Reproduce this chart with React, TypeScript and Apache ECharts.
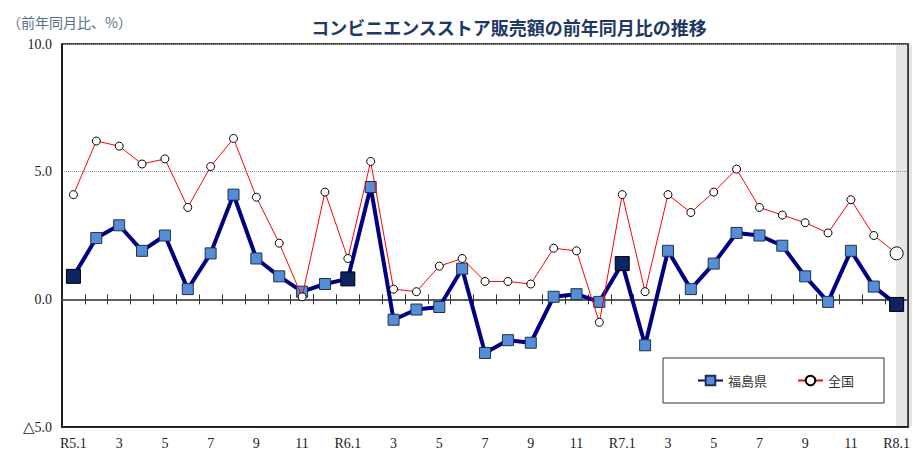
import React, { useEffect, useRef } from "react";
import * as echarts from "echarts";

const categories = [
  "R5.1", "2", "3", "4", "5", "6", "7", "8", "9", "10", "11", "12",
  "R6.1", "2", "3", "4", "5", "6", "7", "8", "9", "10", "11", "12",
  "R7.1", "2", "3", "4", "5", "6", "7", "8", "9", "10", "11", "12",
  "R8.1",
];

const fukushima = [
  0.9, 2.4, 2.9, 1.9, 2.5, 0.4, 1.8, 4.1, 1.6, 0.9, 0.3, 0.6,
  0.8, 4.4, -0.8, -0.4, -0.3, 1.2, -2.1, -1.6, -1.7, 0.1, 0.2, -0.1,
  1.4, -1.8, 1.9, 0.4, 1.4, 2.6, 2.5, 2.1, 0.9, -0.1, 1.9, 0.5,
  -0.2,
];

const national = [
  4.1, 6.2, 6.0, 5.3, 5.5, 3.6, 5.2, 6.3, 4.0, 2.2, 0.1, 4.2,
  1.6, 5.4, 0.4, 0.3, 1.3, 1.6, 0.7, 0.7, 0.6, 2.0, 1.9, -0.9,
  4.1, 0.3, 4.1, 3.4, 4.2, 5.1, 3.6, 3.3, 3.0, 2.6, 3.9, 2.5,
  1.8,
];

const fukushimaHighlight = [0, 12, 24, 36];
const nationalHighlight = [36];

const seriesNames = ["福島県", "全国"];
const yTicks = { min: -5, max: 10, interval: 5 };

const App: React.FC = () => {
  const ref = useRef<HTMLDivElement>(null);

  useEffect(() => {
    if (!ref.current) return;
    const chart = echarts.init(ref.current, undefined, { renderer: "svg" });

    const fData = fukushima.map((v, i) =>
      fukushimaHighlight.includes(i)
        ? { value: v, symbolSize: 14, itemStyle: { color: "#0B2462", borderColor: "#000", borderWidth: 1 } }
        : v
    );
    const nData = national.map((v, i) =>
      nationalHighlight.includes(i) ? { value: v, symbolSize: 13 } : v
    );

    const serif = "'Liberation Serif', 'Times New Roman', serif";
    const cjk = "'Noto Sans CJK JP', 'Noto Sans', sans-serif";

    const tickAxis = (inside: boolean) => ({
      type: "category",
      data: categories,
      position: "bottom",
      boundaryGap: true,
      axisLine: {
        show: true,
        onZero: true,
        onZeroAxisIndex: 0,
        lineStyle: { color: "#555", width: 1.5 },
      },
      axisTick: {
        show: true,
        interval: 0,
        inside,
        length: 5,
        lineStyle: { color: "#333", width: 1 },
      },
      axisLabel: { show: false },
      splitLine: { show: false },
    });

    chart.setOption({
      animation: false,
      backgroundColor: "#fff",
      title: [
        {
          text: "コンビニエンスストア販売額の前年同月比の推移",
          left: 504,
          textAlign: "center",
          top: 13,
          textStyle: { fontFamily: cjk, fontSize: 18, fontWeight: "bold", color: "#1F3864" },
        },
        {
          text: "（前年同月比、%）",
          left: 2,
          top: 10,
          textStyle: { fontFamily: cjk, fontSize: 14, fontWeight: "normal", color: "#55708F" },
        },
      ],
      legend: {
        data: seriesNames,
        left: 663,
        top: 358,
        orient: "horizontal",
        padding: [16, 30, 16, 34],
        itemGap: 30,
        itemWidth: 25,
        itemHeight: 12,
        borderColor: "#333",
        borderWidth: 1,
        backgroundColor: "#fff",
        textStyle: { fontFamily: cjk, fontSize: 13, color: "#333" },
      },
      graphic: [
        {
          type: "rect",
          z: -1,
          silent: true,
          shape: { x: 896, y: 44, width: 16, height: 383 },
          style: { fill: "#E6E6E6" },
        },
      ],
      grid: {
        left: 62,
        right: 1,
        top: 44,
        bottom: 26,
        show: true,
        borderColor: "#111",
        borderWidth: 1.5,
        backgroundColor: "transparent",
      },
      xAxis: [
        {
          type: "category",
          data: categories,
          position: "bottom",
          boundaryGap: true,
          axisLine: { show: true, onZero: false, lineStyle: { color: "#111", width: 1.5 } },
          axisTick: { show: false },
          axisLabel: {
            interval: 1,
            margin: 9,
            fontFamily: serif,
            fontSize: 14,
            color: "#222",
          },
          splitLine: { show: false },
        },
        tickAxis(true),
        tickAxis(false),
      ],
      yAxis: {
        type: "value",
        min: yTicks.min,
        max: yTicks.max,
        interval: yTicks.interval,
        axisLine: { show: true, lineStyle: { color: "#111", width: 1.5 } },
        axisTick: { show: false },
        axisLabel: {
          margin: 10,
          fontFamily: serif,
          fontSize: 14,
          color: "#222",
          formatter: (v: number) =>
            v < 0 ? "{tri|△}" + Math.abs(v).toFixed(1) : v.toFixed(1),
          rich: {
            tri: { fontFamily: "'DejaVu Sans', sans-serif", fontSize: 15, color: "#222" },
          },
        },
        splitLine: { show: true, lineStyle: { color: "#999", type: "dotted", width: 1 } },
      },
      series: [
        {
          name: seriesNames[0],
          type: "line",
          data: fData,
          xAxisIndex: 0,
          yAxisIndex: 0,
          symbol: "rect",
          symbolSize: 11,
          lineStyle: { color: "#000080", width: 4 },
          itemStyle: { color: "#558ED5", borderColor: "#1F3050", borderWidth: 1 },
          z: 3,
        },
        {
          name: seriesNames[1],
          type: "line",
          data: nData,
          xAxisIndex: 0,
          yAxisIndex: 0,
          symbol: "circle",
          symbolSize: 8,
          lineStyle: { color: "#FF0000", width: 1 },
          itemStyle: { color: "#fff", borderColor: "#000", borderWidth: 1 },
          z: 4,
        },
      ],
    });

    return () => chart.dispose();
  }, []);

  return <div ref={ref} style={{ width: 913, height: 453, position: "absolute", left: 0, top: 0 }} />;
};

export default App;
